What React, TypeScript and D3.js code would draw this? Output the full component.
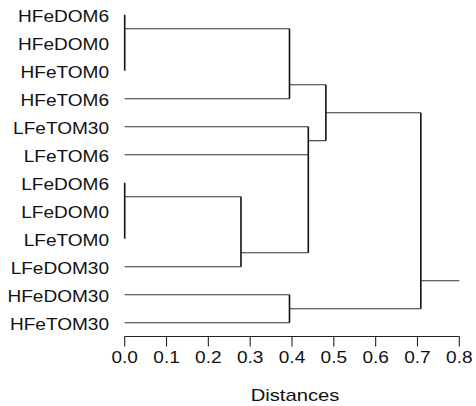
import React from "react";
import * as d3 from "d3";

// leaves, top to bottom
const leafLabels = [
  "HFeDOM6", "HFeDOM0", "HFeTOM0", "HFeTOM6", "LFeTOM30", "LFeTOM6",
  "LFeDOM6", "LFeDOM0", "LFeTOM0", "LFeDOM30", "HFeDOM30", "HFeTOM30",
];

// merges: id, children, height (distance)
const nodeIds = ["n1", "n2", "n3", "n4", "n5", "n6", "n7", "root"];
const nodeChildren = [
  ["HFeDOM6", "HFeDOM0", "HFeTOM0"],
  ["n1", "HFeTOM6"],
  ["LFeDOM6", "LFeDOM0", "LFeTOM0"],
  ["n3", "LFeDOM30"],
  ["LFeTOM30", "LFeTOM6", "n4"],
  ["n2", "n5"],
  ["HFeDOM30", "HFeTOM30"],
  ["n6", "n7"],
];
const nodeHeights = [0, 0.394, 0, 0.278, 0.439, 0.481, 0.394, 0.708];

const tickValues = [0, 0.1, 0.2, 0.3, 0.4, 0.5, 0.6, 0.7, 0.8];
const axisTitle = "Distances";

const W = 476;
const H = 406;
const SX = 1.19; // horizontal text stretch
const FONT = "'Liberation Sans', Arial, Helvetica, sans-serif";

type N = { id: string; h: number; children?: N[] };

function buildTree(): N {
  const make = (id: string): N => {
    const i = nodeIds.indexOf(id);
    if (i < 0) return { id, h: 0 };
    return { id, h: nodeHeights[i], children: nodeChildren[i].map(make) };
  };
  return make("root");
}

export default function App() {
  const x = d3.scaleLinear().domain([0, 0.8]).range([124.7, 459.3]);
  const y = d3.scalePoint<string>().domain(leafLabels).range([14.7, 322.7]);

  const root = d3.hierarchy<N>(buildTree(), (d) => d.children);
  const pos = new Map<string, number>();
  root.eachAfter((n) => {
    if (!n.children) {
      pos.set(n.data.id, y(n.data.id) as number);
    } else {
      const a = n.children[0].leaves();
      const b = n.children[1].leaves();
      const lastA = y(a[a.length - 1].data.id) as number;
      const firstB = y(b[0].data.id) as number;
      pos.set(n.data.id, (lastA + firstB) / 2);
    }
  });

  const verticals: JSX.Element[] = [];
  const horizontals: JSX.Element[] = [];
  root.each((n) => {
    if (!n.children) return;
    const xs = x(n.data.h);
    const kids = n.children;
    verticals.push(
      <line key={"v" + n.data.id} x1={xs} x2={xs}
        y1={pos.get(kids[0].data.id)} y2={pos.get(kids[kids.length - 1].data.id)}
        stroke="#111" strokeWidth={1.6} />
    );
    kids.forEach((k) => {
      const yy = pos.get(k.data.id)!;
      if (k.children && k.data.h === n.data.h) return;
      horizontals.push(
        <line key={"h" + k.data.id} x1={x(k.data.h)} x2={xs} y1={yy} y2={yy}
          stroke="#333" strokeWidth={1.1} />
      );
    });
  });
  const rootY = pos.get("root")!;

  const axisY = 336.5;

  return (
    <svg width={W} height={H} style={{ position: "absolute", left: 0, top: 0, background: "#fff" }}>
      <rect width={W} height={H} fill="#fff" />
      {horizontals}
      {verticals}
      <line x1={x(0.708)} x2={x(0.8)} y1={rootY} y2={rootY} stroke="#333" strokeWidth={1.1} />

      {leafLabels.map((l) => (
        <text key={l} transform={`translate(109,${(y(l) as number) + 7.6}) scale(${SX},1)`}
          textAnchor="end" fontFamily={FONT} fontSize={16} fill="#111">{l}</text>
      ))}

      <g>
        <line x1={x(0)} x2={x(0.8)} y1={axisY} y2={axisY} stroke="#222" strokeWidth={1.1} />
        {tickValues.map((t) => (
          <g key={t}>
            <line x1={x(t)} x2={x(t)} y1={axisY} y2={axisY + 10} stroke="#222" strokeWidth={1.1} />
            <text transform={`translate(${x(t)},362.7) scale(${SX},1)`} textAnchor="middle"
              fontFamily={FONT} fontSize={16} fill="#111">{d3.format(".1f")(t)}</text>
          </g>
        ))}
        <text transform={`translate(${x(0.4) + 3},400.5) scale(${SX},1)`} textAnchor="middle"
          fontFamily={FONT} fontSize={17} fill="#111">{axisTitle}</text>
      </g>
    </svg>
  );
}
